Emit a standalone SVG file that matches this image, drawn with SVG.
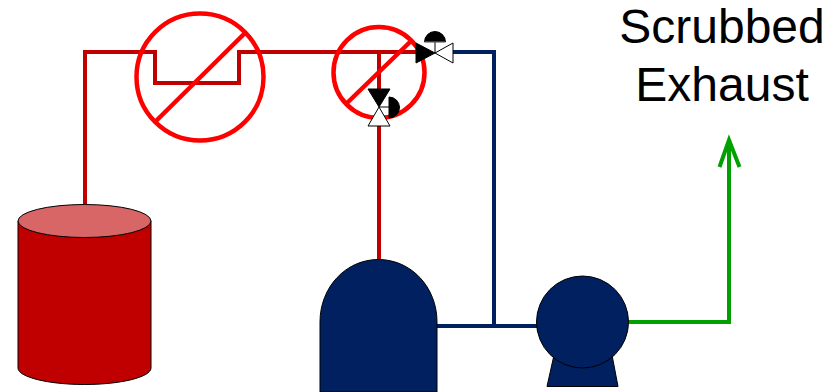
<svg xmlns="http://www.w3.org/2000/svg" width="836" height="392" viewBox="0 0 836 392">
<style>
.pipe{fill:none;stroke-width:4;stroke-linejoin:miter}
.red{stroke:#c00000}.blue{stroke:#002060}.green{stroke:#00a000}
.ring{fill:none;stroke:#ff0000;stroke-width:4.5}
.eq{fill:#002060;stroke:#000;stroke-width:1}
.blk{fill:#000;stroke:#000;stroke-width:1}
.wht{fill:#fff;stroke:#000;stroke-width:1}
text{font-family:"Liberation Sans",Arial,sans-serif;font-size:48px;fill:#000;text-anchor:middle}
</style>
<rect width="836" height="392" fill="#fff"/>
<g id="connectors">
<path class="pipe red" d="M85 206V52H155V83H239V52H416"/>
<path class="pipe red" d="M379 52V89M379 126V260"/>
<path class="pipe blue" d="M453 52H494V326"/>
<path class="pipe blue" d="M437 326H537"/>
<path class="pipe green" d="M628 322H729V140"/>
<path class="pipe green" d="M719.500 167L729 140L739.500 167"/>
</g>
<g id="tank">
<path d="M18 221V368C18 377 48 384.500 84.500 384.500S151 377 151 368V221Z" fill="#c00000" stroke="#000" stroke-width="1"/>
<ellipse cx="84.500" cy="221" rx="66.500" ry="16.500" fill="#d96666" stroke="#000" stroke-width="1"/>
</g>
<g id="filter1">
<circle class="ring" cx="200" cy="77" r="63.500"/>
<line class="ring" x1="245" y1="33" x2="156" y2="121"/>
</g>
<g id="filter2">
<circle class="ring" cx="379" cy="72.500" r="45.500"/>
<line class="ring" x1="410" y1="42" x2="347" y2="103"/>
</g>
<g id="valve-horizontal">
<path class="blk" d="M416 43V63L435 53Z"/>
<path class="wht" d="M435 53L453 43V63Z"/>
<path class="blk" d="M424.500 42A10.500 10.500 0 0 1 445.500 42Z"/>
<path d="M435 32V53" stroke="#000" stroke-width="1" fill="none"/>
<path d="M424.500 42H445.500" stroke="#fff" stroke-width="0.500" fill="none"/>
</g>
<g id="valve-vertical">
<path class="blk" d="M368 89H390L379 107Z"/>
<path class="wht" d="M379 107L368 126H390Z"/>
<path class="blk" d="M389 97A10.500 10.500 0 0 1 389 118Z"/>
<path d="M379 107H400" stroke="#000" stroke-width="1" fill="none"/>
</g>
<g id="vessel">
<path class="eq" d="M320 392V322C320 287 346 259.500 378.500 259.500S437 287 437 322V392Z"/>
</g>
<g id="pump">
<path class="eq" d="M554 355L547 386.500H618L612 355Z"/>
<circle class="eq" cx="582.500" cy="322" r="46"/>
</g>
<g id="label">
<text x="722" y="43">Scrubbed</text>
<text x="722" y="101">Exhaust</text>
</g>
</svg>
